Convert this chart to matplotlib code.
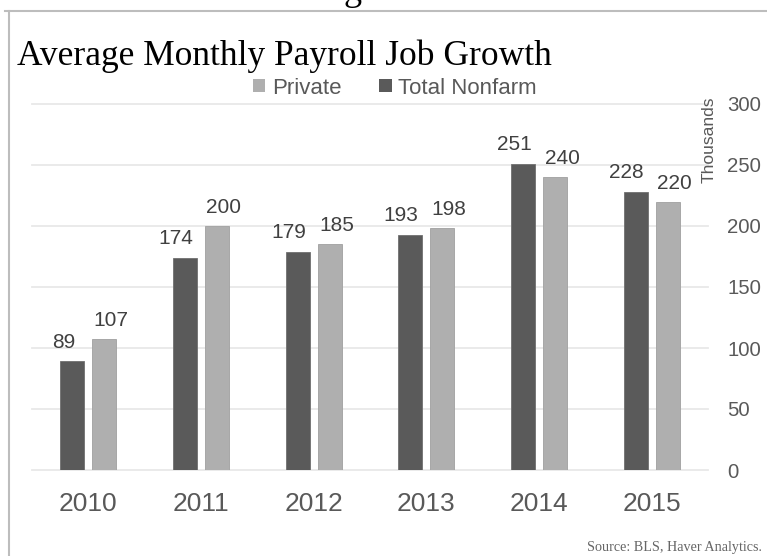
import matplotlib
matplotlib.use('Agg')
from matplotlib import pyplot as plt
from matplotlib.lines import Line2D
from matplotlib.patches import Patch
import numpy as np

years = ['2010', '2011', '2012', '2013', '2014', '2015']
total_nonfarm = [89, 174, 179, 193, 251, 228]
private = [107, 200, 185, 198, 240, 220]
y_ticks = [0, 50, 100, 150, 200, 250, 300]

dark = '#5a5a5a'
light = '#afafaf'
txt = '#595959'
sans = ['Liberation Sans', 'DejaVu Sans']
serif = ['Liberation Serif', 'DejaVu Serif']

W, H = 767, 556
fig = plt.figure(figsize=(W / 100, H / 100), dpi=100)
fig.patch.set_facecolor('white')

# axes box in pixels: x 32..708, y(300)=104, y(0)=470
ax = fig.add_axes([32 / W, 1 - 470 / H, (708 - 32) / W, (470 - 104) / H])

x = np.arange(len(years))
off = 0.142
bw = 0.213
ax.bar(x - off, total_nonfarm, bw, color=dark, edgecolor='#707070', linewidth=0.6, zorder=3)
ax.bar(x + off, private, bw, color=light, edgecolor='#a0a0a0', linewidth=0.6, zorder=3)

# value labels sit slightly outward from the bar centres
for xi, v in zip(x, total_nonfarm):
    ax.annotate(str(v), (xi - off, v), xytext=(-6.5, 7), textcoords='offset points',
                ha='center', va='bottom', fontsize=15, color='#404040', family=sans)
for xi, v in zip(x, private):
    ax.annotate(str(v), (xi + off, v), xytext=(5, 6.5), textcoords='offset points',
                ha='center', va='bottom', fontsize=15, color='#404040', family=sans)

ax.set_xlim(-0.5, len(years) - 0.5)
ax.set_ylim(0, 300)
ax.set_xticks(x)
ax.set_xticklabels(years, fontsize=19, color=txt, family=sans)
ax.set_yticks(y_ticks)
ax.set_yticklabels([str(t) for t in y_ticks], fontsize=14.7, color=txt, family=sans, ha='left')
ax.yaxis.tick_right()
ax.tick_params(axis='y', length=0, pad=14)
ax.tick_params(axis='x', length=0, pad=16)
for s in ax.spines.values():
    s.set_visible(False)
ax.grid(axis='y', color='#e8e8e8', linewidth=1.3, zorder=0)
for gl in ax.get_ygridlines():
    gl.set_clip_on(False)

# rotated unit label
fig.text(709 / W, 1 - 140 / H, 'Thousands', rotation=90, ha='center', va='center',
         fontsize=12.5, color=txt, family=sans)

# legend
handles = [Patch(facecolor=light, edgecolor='none'), Patch(facecolor=dark, edgecolor='none')]
leg = fig.legend(handles, ['Private', 'Total Nonfarm'], loc='center', ncol=2,
                 bbox_to_anchor=(395 / W, 1 - 88 / H), frameon=False,
                 prop={'family': sans, 'size': 16}, handlelength=0.55, handleheight=0.55,
                 handletextpad=0.3, columnspacing=1.7)
for t in leg.get_texts():
    t.set_color(txt)

# title and source
fig.text(17 / W, 1 - 56 / H, 'Average Monthly Payroll Job Growth', ha='left', va='center',
         fontsize=25.5, color='black', family=serif)
fig.text(762 / W, 1 - 547 / H, 'Source: BLS, Haver Analytics.', ha='right', va='center',
         fontsize=10.2, color='#666666', family=serif)

# cut-off header above the frame
fig.text(353 / W, 1.0, 'g', ha='center', va='baseline', fontsize=26, color='black',
         family=serif)

# frame lines
fig.add_artist(Line2D([5 / W, 1], [1 - 10.5 / H, 1 - 10.5 / H], color='#bdbdbd', linewidth=1.5,
                      transform=fig.transFigure))
fig.add_artist(Line2D([8.5 / W, 8.5 / W], [0, 1 - 10.5 / H], color='#bdbdbd', linewidth=1.5,
                      transform=fig.transFigure))

fig.savefig('out.png', dpi=100)
